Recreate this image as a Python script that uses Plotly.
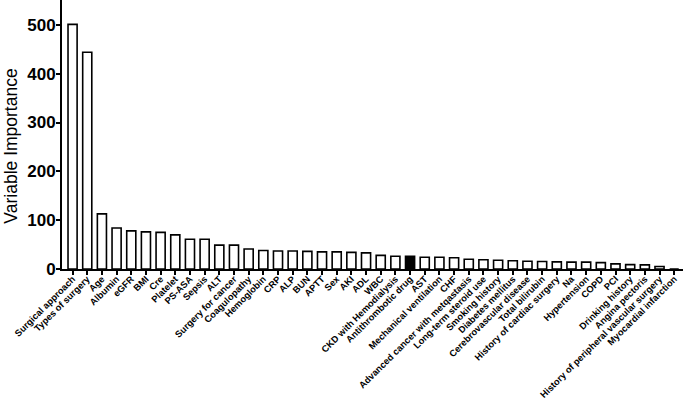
import plotly.graph_objects as go

categories = [
    "Surgical approach", "Types of surgery", "Age", "Albumin", "eGFR", "BMI", "Cre",
    "Platelet", "PS-ASA", "Sepsis", "ALT", "Surgery for cancer", "Coagulopathy",
    "Hemoglobin", "CRP", "ALP", "BUN", "APTT", "Sex", "AKI", "ADL", "WBC",
    "CKD with Hemodialysis", "Antithrombotic drug", "AST", "Mechanical ventilation",
    "CHF", "Advanced cancer with metqastasis", "Long-term steroid use",
    "Smoking history", "Diabetes mellitus", "Cerebrovascular disease",
    "Total bilirubin", "History of cardiac surgery", "Na", "Hypertension", "COPD",
    "PCI", "Drinking history", "Angina pectoris",
    "History of peripheral vascular surgery", "Myocardial infarction",
]
importance = [
    501, 444, 113, 84, 78, 76, 75, 70, 61, 61, 49, 49, 41, 38, 37, 37, 36, 35, 35,
    34, 33, 28, 26, 26, 24, 24, 23, 20, 19, 18, 17, 16, 15.5, 14.5, 14, 14, 13,
    10.5, 9, 8.5, 5, 0,
]
highlight = "Antithrombotic drug"
y_title = "Variable Importance"

fills = ["black" if c == highlight else "white" for c in categories]

fig = go.Figure(go.Bar(
    x=categories, y=importance,
    marker=dict(color=fills, line=dict(color="black", width=1.6)),
    width=0.62,
))

font = "Arial, Liberation Sans, sans-serif"
fig.update_layout(
    width=685, height=401,
    margin=dict(l=62, r=2, t=0, b=132),
    plot_bgcolor="white", paper_bgcolor="white",
    showlegend=False,
    font=dict(family=font, color="black"),
    annotations=[dict(
        text=y_title, textangle=-90, xref="paper", yref="paper",
        x=-0.0998, y=0.455, xanchor="left", yanchor="middle", showarrow=False,
        borderpad=0,
        font=dict(size=17.5, family=font, color="black"),
    )],
)
fig.update_xaxes(
    range=[-0.72, 41.6], showline=True, linecolor="black", linewidth=2,
    ticks="outside", ticklen=4, tickwidth=1.5, tickcolor="black",
    tickangle=-45, tickfont=dict(size=9.3, family=font, weight="bold"),
    ticklabelstandoff=-5,
    showgrid=False, zeroline=False, automargin=False,
)
fig.update_yaxes(
    range=[0, 551], tickvals=[0, 100, 200, 300, 400, 500],
    showline=True, linecolor="black", linewidth=2,
    ticks="outside", ticklen=4, tickwidth=2, tickcolor="black",
    tickfont=dict(size=17, family=font, weight="bold"),
    ticklabelstandoff=-3,
    showgrid=False, zeroline=False, automargin=False,
)

fig.write_html(
    "out.html",
    config={"displayModeBar": False},
    post_script="document.body.style.margin='0';document.body.style.padding='0';",
)
